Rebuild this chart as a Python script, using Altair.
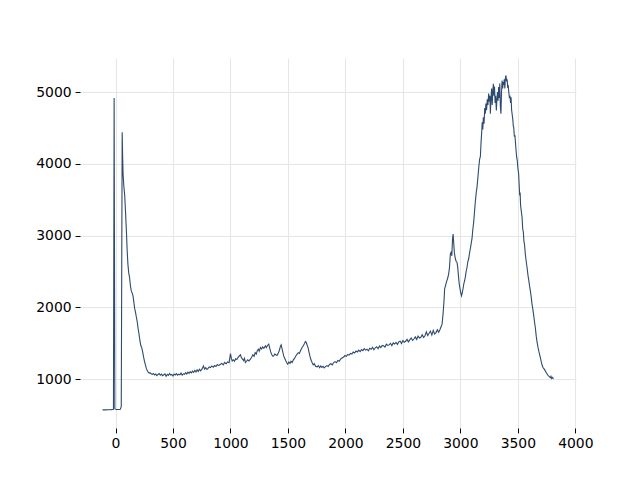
import altair as alt
import pandas as pd

# Spectrum: [wavenumber, intensity]
laser_region = [
    [-113, 572], [-90, 573], [-60, 575], [-40, 576], [-25, 578], [-18, 580],
    [-12, 4920], [-6, 590], [0, 580], [15, 577], [30, 578], [42, 580],
    [50, 620],
]
decay_region = [
    [58, 4440], [62, 4100], [66, 3850], [72, 3700], [80, 3560], [88, 3300],
    [95, 3050], [102, 2770], [108, 2600], [115, 2480], [122, 2420], [130, 2300],
    [137, 2230], [145, 2200], [152, 2160], [159, 2080], [166, 1990], [174, 1930],
    [182, 1860], [189, 1800], [197, 1700], [205, 1620], [212, 1540], [220, 1470],
    [228, 1440], [236, 1380], [244, 1310], [252, 1250], [260, 1200], [268, 1150],
    [276, 1120], [284, 1100], [292, 1085],
]
baseline_region = [
    [300, 1090], [310, 1075], [320, 1068], [330, 1080], [340, 1058], [350, 1072],
    [360, 1050], [370, 1066], [380, 1078], [390, 1055], [400, 1070], [410, 1048],
    [420, 1062], [430, 1075], [440, 1040], [450, 1068], [460, 1052], [470, 1080],
    [480, 1058], [490, 1066], [500, 1045], [510, 1072], [520, 1060], [530, 1078],
    [540, 1055], [550, 1070], [560, 1062], [570, 1085], [580, 1058], [590, 1075],
    [600, 1068], [610, 1090], [620, 1072], [630, 1098], [640, 1080], [650, 1105],
    [660, 1088], [670, 1112], [680, 1095], [690, 1125], [700, 1100], [710, 1130],
    [720, 1108], [730, 1138],
]
fingerprint_region = [
    [740, 1116], [752, 1140], [765, 1185], [775, 1140], [785, 1160], [795, 1135],
    [805, 1150], [815, 1170], [826, 1162], [838, 1185], [850, 1168], [862, 1190],
    [874, 1178], [886, 1205], [898, 1190], [913, 1209], [925, 1220], [937, 1200],
    [950, 1235], [962, 1215], [975, 1240], [988, 1230], [1000, 1357], [1008, 1290],
    [1015, 1255], [1025, 1270], [1035, 1250], [1045, 1285], [1055, 1275], [1065, 1300],
    [1075, 1320], [1087, 1339], [1095, 1300], [1105, 1280], [1115, 1260], [1122, 1290],
    [1130, 1232], [1140, 1250], [1150, 1270], [1160, 1255], [1174, 1279], [1185, 1310],
    [1195, 1340], [1205, 1320], [1215, 1370], [1225, 1350], [1232, 1395], [1242, 1420],
    [1250, 1390], [1261, 1441], [1270, 1420], [1280, 1450], [1290, 1430], [1304, 1465],
    [1312, 1440], [1322, 1470], [1333, 1488], [1342, 1430], [1350, 1380], [1360, 1340],
    [1370, 1320], [1377, 1325], [1385, 1350], [1395, 1340], [1405, 1330], [1415, 1360],
    [1425, 1400], [1435, 1460], [1441, 1479], [1448, 1430], [1455, 1380], [1463, 1325],
    [1470, 1300], [1480, 1260], [1490, 1230], [1498, 1209], [1508, 1240], [1518, 1220],
    [1527, 1250], [1537, 1232], [1547, 1270], [1557, 1290], [1567, 1320], [1580, 1349],
    [1590, 1370], [1600, 1360], [1610, 1400], [1623, 1441], [1635, 1470], [1645, 1500],
    [1652, 1525], [1660, 1510], [1668, 1470], [1675, 1440], [1681, 1395], [1690, 1330],
    [1700, 1270], [1710, 1232], [1720, 1200], [1730, 1215], [1740, 1180], [1754, 1172],
    [1765, 1190], [1775, 1160], [1785, 1185], [1795, 1165], [1805, 1180], [1815, 1158],
    [1826, 1175],
]
rising_region = [
    [1838, 1190], [1850, 1178], [1862, 1205], [1874, 1215], [1886, 1200], [1898, 1232],
    [1910, 1245], [1922, 1230], [1934, 1262], [1946, 1250], [1958, 1280], [1970, 1295],
    [1985, 1310], [1996, 1330], [2008, 1318], [2020, 1345], [2032, 1335], [2044, 1360],
    [2056, 1350], [2068, 1378], [2080, 1365], [2092, 1392], [2104, 1380], [2116, 1405],
    [2128, 1385], [2140, 1412], [2152, 1398], [2164, 1425], [2176, 1405], [2188, 1418],
    [2200, 1395], [2212, 1430], [2224, 1418], [2236, 1445], [2248, 1410], [2260, 1438],
    [2272, 1452], [2284, 1425], [2296, 1462], [2308, 1440], [2320, 1470], [2332, 1465],
    [2344, 1448], [2356, 1488], [2368, 1470], [2380, 1478], [2392, 1500], [2404, 1468],
    [2416, 1505], [2428, 1490], [2440, 1512], [2452, 1485], [2464, 1520], [2476, 1530],
    [2488, 1498], [2500, 1540], [2512, 1515], [2524, 1528], [2536, 1555], [2548, 1520],
    [2560, 1548], [2572, 1575], [2584, 1540], [2596, 1560], [2608, 1590], [2620, 1555],
    [2632, 1600], [2644, 1575], [2656, 1585], [2668, 1620], [2680, 1580], [2692, 1605],
    [2704, 1660], [2716, 1610], [2728, 1640], [2740, 1670], [2752, 1615], [2764, 1680],
    [2776, 1630], [2788, 1650], [2800, 1690], [2811, 1655], [2822, 1690], [2832, 1730],
    [2841, 1767],
]
ch_region = [
    [2850, 1920], [2858, 2100], [2863, 2256], [2870, 2300], [2880, 2360], [2890, 2410],
    [2898, 2465], [2905, 2550], [2913, 2745], [2919, 2767], [2926, 2720], [2932, 2960],
    [2937, 3024], [2942, 2900], [2948, 2760], [2957, 2675], [2964, 2640], [2971, 2628],
    [2977, 2558], [2984, 2430], [2990, 2330], [2997, 2260], [3004, 2200], [3010, 2163],
    [3016, 2200], [3022, 2250], [3030, 2330], [3037, 2372], [3044, 2430], [3050, 2500],
    [3058, 2560], [3065, 2640], [3072, 2675], [3080, 2760], [3088, 2830], [3095, 2900],
    [3102, 2970], [3108, 3080], [3116, 3190], [3123, 3330], [3130, 3470], [3138, 3600],
    [3145, 3680], [3152, 3800], [3160, 3950], [3168, 4070], [3174, 4100], [3180, 4300],
    [3186, 4450], [3190, 4580], [3195, 4480], [3200, 4650], [3206, 4560], [3212, 4780],
    [3217, 4700], [3222, 4840], [3228, 4750], [3234, 4900], [3240, 4820], [3246, 4980],
    [3252, 4870], [3257, 4950], [3261, 4700], [3266, 4900], [3272, 5050], [3277, 4820],
    [3282, 5000], [3287, 5117], [3292, 4950], [3297, 5080], [3302, 4850], [3307, 4950],
    [3313, 4745], [3318, 4900], [3323, 5000], [3328, 4880], [3333, 5070], [3338, 4920],
    [3343, 5120], [3348, 4800], [3353, 4700], [3358, 5000], [3363, 5163], [3368, 5050],
    [3373, 5140], [3377, 5100], [3382, 5180], [3387, 5050], [3392, 5200], [3397, 5233],
    [3402, 5150], [3407, 5180], [3412, 5060], [3416, 5100], [3420, 5024], [3426, 4930],
    [3432, 4940], [3437, 4850], [3441, 4930], [3446, 4750], [3450, 4699], [3456, 4620],
    [3461, 4520], [3464, 4512], [3470, 4380], [3475, 4400], [3478, 4326], [3484, 4200],
    [3490, 4090], [3495, 4050], [3500, 3950], [3507, 3861], [3512, 3700], [3516, 3560],
    [3520, 3600], [3524, 3420], [3530, 3340], [3537, 3255], [3542, 3100], [3548, 3050],
    [3553, 2920], [3558, 2880], [3565, 2745], [3572, 2650], [3580, 2560], [3588, 2450],
    [3595, 2380], [3602, 2300], [3609, 2232], [3616, 2150], [3623, 2050], [3630, 1980],
    [3638, 1890], [3645, 1800], [3652, 1720], [3660, 1600], [3668, 1510], [3676, 1440],
    [3684, 1380], [3690, 1340], [3696, 1301], [3704, 1240], [3712, 1190], [3720, 1160],
    [3730, 1140], [3739, 1116], [3748, 1090], [3756, 1070], [3764, 1050], [3772, 1040],
    [3778, 1030], [3783, 1022], [3788, 1040], [3794, 1010], [3800, 1025], [3806, 1014],
    [3810, 1005],
]

x_ticks = [0, 500, 1000, 1500, 2000, 2500, 3000, 3500, 4000]
y_ticks = [1000, 2000, 3000, 4000, 5000]

rows = (laser_region + decay_region + baseline_region + fingerprint_region
        + rising_region + ch_region)
df = pd.DataFrame(rows, columns=["wavenumber", "intensity"])

font = "DejaVu Sans"
axis_common = dict(
    domain=False,
    ticks=True,
    tickColor="#000000",
    tickSize=4.9,
    tickWidth=1,
    labelFont=font,
    labelFontSize=13.9,
    labelColor="#000000",
    labelPadding=4,
    labelFlush=False,
    labelOverlap=False,
    grid=True,
    gridColor="#e6e6e6",
    gridWidth=1.1,
    title=None,
    format="d",
)

chart = alt.Chart(df).mark_line(
    color="#2e4a6e", strokeWidth=1.1, clip=True
).encode(
    x=alt.X("wavenumber:Q",
            scale=alt.Scale(domain=[-309, 4006], nice=False, zero=False),
            axis=alt.Axis(values=x_ticks, **axis_common)),
    y=alt.Y("intensity:Q",
            scale=alt.Scale(domain=[320, 5476], nice=False, zero=False),
            axis=alt.Axis(values=y_ticks, **axis_common)),
    order="wavenumber:Q",
).properties(
    width=496,
    height=370,
    autosize=alt.AutoSizeParams(type="none"),
    padding={"left": 72, "top": 50, "right": 56, "bottom": 40},
).configure_view(stroke=None)

chart.save("out.html", embed_options={"renderer": "svg", "actions": False})
